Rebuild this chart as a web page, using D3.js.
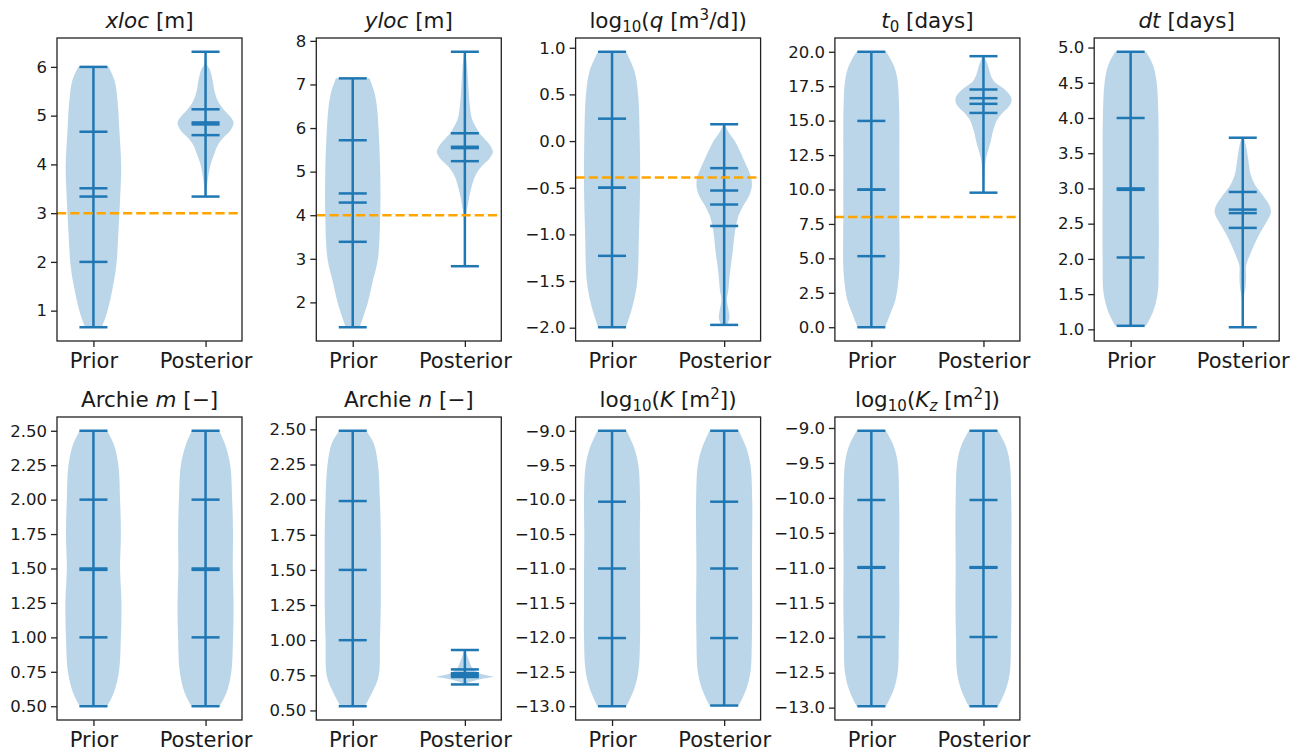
<!DOCTYPE html>
<html>
<head>
<meta charset="utf-8">
<script src="https://cdn.jsdelivr.net/npm/d3@7"></script>
<style>
  body { margin: 0; background: #fff; }
  svg text { font-family: "DejaVu Sans", sans-serif; fill: #1a1a1a; }
</style>
</head>
<body>
<svg id="chart" width="1309" height="751"></svg>
<script>
// ---- data ----
const groupLabels = ["Prior", "Posterior"];

// title pieces: [text, style]  n = normal, i = italic, sub/subi = subscript, sup = superscript
const panelTitles = [
    [["xloc", "i"], [" [m]", "n"]],
    [["yloc", "i"], [" [m]", "n"]],
    [["log", "n"], ["10", "sub"], ["(", "n"], ["q", "i"], [" [m", "n"], ["3", "sup"], ["/d])", "n"]],
    [["t", "i"], ["0", "sub"], [" [days]", "n"]],
    [["dt", "i"], [" [days]", "n"]],
    [["Archie ", "n"], ["m", "i"], [" [\u2212]", "n"]],
    [["Archie ", "n"], ["n", "i"], [" [\u2212]", "n"]],
    [["log", "n"], ["10", "sub"], ["(", "n"], ["K", "i"], [" [m", "n"], ["2", "sup"], ["])", "n"]],
    [["log", "n"], ["10", "sub"], ["(", "n"], ["K", "i"], ["z", "subi"], [" [m", "n"], ["2", "sup"], ["])", "n"]]
];

const yTicks = [
    [1, 2, 3, 4, 5, 6],
    [2, 3, 4, 5, 6, 7, 8],
    [-2, -1.5, -1, -0.5, 0, 0.5, 1],
    [0, 2.5, 5, 7.5, 10, 12.5, 15, 17.5, 20],
    [1, 1.5, 2, 2.5, 3, 3.5, 4, 4.5, 5],
    [0.5, 0.75, 1, 1.25, 1.5, 1.75, 2, 2.25, 2.5],
    [0.5, 0.75, 1, 1.25, 1.5, 1.75, 2, 2.25, 2.5],
    [-13, -12.5, -12, -11.5, -11, -10.5, -10, -9.5, -9],
    [-13, -12.5, -12, -11.5, -11, -10.5, -10, -9.5, -9]
];
const yTickDecimals = [0, 0, 1, 1, 1, 2, 2, 1, 1];

// true values (dashed orange line), null = none
const trueValues = [3.0, 4.0, -0.39, 8.0, null, null, null, null, null];

// [min, max] of each violin
const priorExtrema = [
    [0.66, 6.0], [1.43, 7.14], [-1.995, 0.957], [0.0, 20.0], [1.05, 4.94],
    [0.5, 2.5], [0.53, 2.49], [-13.0, -9.0], [-12.98, -9.04]
];
const posteriorExtrema = [
    [3.34, 6.31], [2.83, 7.75], [-1.97, 0.18], [9.77, 19.68], [1.03, 3.72],
    [0.5, 2.5], [0.685, 0.93], [-12.99, -9.0], [-12.98, -9.04]
];

// inner lines (quartiles, median, mean)
const priorLines = [
    [2.0, 3.34, 3.51, 4.67],
    [3.39, 4.29, 4.5, 5.72],
    [-1.23, -0.5, -0.5, 0.24],
    [5.16, 9.98, 10.0, 14.98],
    [2.02, 2.98, 3.0, 4.0],
    [1.0, 1.49, 1.5, 2.0],
    [1.0, 1.5, 1.99],
    [-12.01, -11.0, -10.03],
    [-11.99, -11.0, -10.99, -10.03]
];
const posteriorLines = [
    [4.6, 4.82, 4.86, 5.13],
    [5.24, 5.54, 5.57, 5.88],
    [-0.91, -0.68, -0.53, -0.29],
    [15.56, 16.22, 16.63, 17.26],
    [2.44, 2.65, 2.7, 2.95],
    [1.0, 1.49, 1.5, 2.0],
    [0.738, 0.752, 0.765, 0.792],
    [-12.01, -11.0, -10.03],
    [-11.99, -11.0, -10.99, -10.03]
];

// violin outlines: [value, relative half width]
const priorShapes = [
    [[0.66, 0.3], [0.95, 0.48], [1.36, 0.65], [1.9, 0.81], [2.6, 0.89], [3.28, 0.95], [3.96, 0.99], [4.65, 0.93], [5.3, 0.86], [5.73, 0.75], [6.0, 0.54]],
    [[1.43, 0.25], [2.0, 0.54], [2.5, 0.72], [3.0, 0.9], [4.0, 0.98], [5.0, 0.98], [6.0, 0.92], [6.5, 0.86], [6.8, 0.78], [7.14, 0.6]],
    [[-1.995, 0.5], [-1.75, 0.75], [-1.5, 0.9], [-1.0, 0.96], [-0.5, 1.0], [0.0, 0.99], [0.5, 0.93], [0.75, 0.8], [0.957, 0.5]],
    [[0, 0.49], [1, 0.68], [2, 0.86], [4, 0.99], [8, 1.0], [12, 1.0], [16, 0.99], [18, 0.93], [19, 0.8], [20, 0.53]],
    [[1.05, 0.55], [1.25, 0.8], [1.5, 0.96], [2.0, 1.0], [3.0, 1.0], [4.0, 0.99], [4.5, 0.93], [4.75, 0.8], [4.94, 0.55]],
    [[0.5, 0.49], [0.6, 0.73], [0.75, 0.91], [1.0, 0.98], [1.25, 1.0], [1.5, 0.95], [1.75, 0.98], [2.0, 0.95], [2.25, 0.89], [2.4, 0.73], [2.5, 0.49]],
    [[0.53, 0.44], [0.65, 0.75], [0.75, 0.93], [1.0, 0.97], [1.25, 1.0], [1.5, 1.0], [1.75, 1.0], [2.0, 0.97], [2.25, 0.9], [2.4, 0.75], [2.49, 0.48]],
    [[-13.0, 0.52], [-12.75, 0.79], [-12.5, 0.94], [-12.0, 1.0], [-11.5, 1.0], [-11.0, 1.0], [-10.5, 0.99], [-10.0, 1.0], [-9.5, 0.94], [-9.25, 0.79], [-9.0, 0.52]],
    [[-12.98, 0.52], [-12.75, 0.79], [-12.5, 0.94], [-12.0, 0.98], [-11.5, 1.0], [-11.0, 0.99], [-10.5, 1.0], [-10.0, 0.99], [-9.5, 0.94], [-9.25, 0.79], [-9.04, 0.52]]
];
const posteriorShapes = [
    [[3.34, 0.02], [3.6, 0.06], [3.8, 0.11], [4.0, 0.18], [4.2, 0.3], [4.4, 0.44], [4.55, 0.64], [4.7, 0.89], [4.85, 1.0], [4.95, 0.92], [5.13, 0.64], [5.3, 0.44], [5.5, 0.32], [5.7, 0.26], [5.95, 0.15], [6.05, 0.05], [6.31, 0.01]],
    [[2.83, 0.01], [3.5, 0.02], [4.0, 0.05], [4.3, 0.12], [4.6, 0.22], [4.9, 0.37], [5.1, 0.57], [5.3, 0.88], [5.45, 1.0], [5.55, 0.95], [5.7, 0.78], [5.9, 0.51], [6.2, 0.26], [6.5, 0.18], [7.0, 0.12], [7.4, 0.08], [7.75, 0.02]],
    [[-1.97, 0.1], [-1.9, 0.19], [-1.8, 0.15], [-1.7, 0.1], [-1.6, 0.15], [-1.4, 0.21], [-1.2, 0.3], [-1.0, 0.37], [-0.9, 0.43], [-0.8, 0.51], [-0.7, 0.67], [-0.6, 0.87], [-0.5, 0.98], [-0.4, 0.97], [-0.2, 0.7], [0.0, 0.38], [0.1, 0.15], [0.18, 0.02]],
    [[9.77, 0.02], [11, 0.04], [12, 0.07], [12.5, 0.12], [13, 0.19], [13.5, 0.26], [14, 0.31], [14.5, 0.38], [15, 0.47], [15.5, 0.65], [16, 0.9], [16.4, 1.0], [16.8, 0.96], [17.3, 0.74], [17.8, 0.4], [18.3, 0.26], [19, 0.16], [19.68, 0.03]],
    [[1.03, 0.01], [1.25, 0.02], [1.45, 0.04], [1.6, 0.1], [1.75, 0.12], [1.9, 0.12], [2.05, 0.25], [2.2, 0.41], [2.35, 0.59], [2.5, 0.81], [2.65, 1.0], [2.75, 0.96], [2.9, 0.72], [3.05, 0.44], [3.2, 0.28], [3.4, 0.2], [3.6, 0.12], [3.72, 0.04]],
    [[0.5, 0.5], [0.6, 0.75], [0.75, 0.92], [1.0, 0.98], [1.25, 1.0], [1.5, 0.97], [1.75, 0.98], [2.0, 0.95], [2.25, 0.88], [2.4, 0.7], [2.5, 0.49]],
    [[0.685, 0.03], [0.7, 0.15], [0.715, 0.4], [0.73, 0.77], [0.74, 1.0], [0.75, 0.77], [0.77, 0.46], [0.8, 0.28], [0.84, 0.18], [0.88, 0.1], [0.93, 0.02]],
    [[-12.99, 0.52], [-12.75, 0.79], [-12.5, 0.94], [-12.0, 0.99], [-11.5, 1.0], [-11.0, 0.99], [-10.5, 1.0], [-10.0, 1.0], [-9.5, 0.94], [-9.25, 0.79], [-9.0, 0.52]],
    [[-12.98, 0.52], [-12.75, 0.79], [-12.5, 0.94], [-12.0, 0.98], [-11.5, 1.0], [-11.0, 0.99], [-10.5, 1.0], [-10.0, 0.99], [-9.5, 0.94], [-9.25, 0.79], [-9.04, 0.52]]
];

// ---- layout ----
const blue = "#1f77b4";
const panelW = 185, panelH = 303;
const colStep = 259.3, firstLeft = 57;
const rowTops = [38, 417];
const titleSize = 21.5, xLabelSize = 21, yLabelSize = 16.5;
const violinHalf = 0.25;   // widths = 0.5
const capHalf = 0.125;

const svg = d3.select("#chart");
svg.append("rect").attr("width", 1309).attr("height", 751).attr("fill", "#fff");

/**
 * dessine le titre avec indices / exposants
 */
function drawTitle(g, cx, baseline, parts) {
    const t = g.append("text")
        .attr("x", cx)
        .attr("y", baseline)
        .attr("text-anchor", "middle")
        .style("font-size", titleSize + "px");
    const shifts = { n: 0, i: 0, sub: 0.2 * titleSize, subi: 0.2 * titleSize, sup: -0.38 * titleSize };
    let cur = 0;
    parts.forEach(([txt, st]) => {
        const ts = t.append("tspan").text(txt);
        const dy = shifts[st] - cur;
        if (dy !== 0) ts.attr("dy", dy);
        cur = shifts[st];
        if (st === "i" || st === "subi") ts.style("font-style", "italic");
        if (st === "sub" || st === "subi" || st === "sup") ts.style("font-size", (titleSize * 0.7) + "px");
    });
}

/**
 * dessine un violon (corps + barres min / max / lignes internes)
 */
function drawViolin(g, x, y, pos, shape, ext, lines) {
    const area = d3.area()
        .y(d => y(d[0]))
        .x0(d => x(pos - violinHalf * d[1]))
        .x1(d => x(pos + violinHalf * d[1]))
        .curve(d3.curveCatmullRom);

    g.append("path")
        .datum(shape)
        .attr("d", area)
        .attr("fill", blue)
        .attr("fill-opacity", 0.3);

    // barre verticale
    g.append("line")
        .attr("x1", x(pos)).attr("x2", x(pos))
        .attr("y1", y(ext[0])).attr("y2", y(ext[1]))
        .attr("stroke", blue).attr("stroke-width", 2.5);

    g.selectAll(null)
        .data(ext.concat(lines))
        .join("line")
        .attr("x1", x(pos - capHalf))
        .attr("x2", x(pos + capHalf))
        .attr("y1", d => y(d))
        .attr("y2", d => y(d))
        .attr("stroke", blue)
        .attr("stroke-width", 2.5);
}

function drawPanel(i) {
    const col = i % 5, row = Math.floor(i / 5);
    const left = firstLeft + col * colStep;
    const top = rowTops[row];

    const lo = Math.min(priorExtrema[i][0], posteriorExtrema[i][0]);
    const hi = Math.max(priorExtrema[i][1], posteriorExtrema[i][1]);
    const pad = 0.05 * (hi - lo);

    const x = d3.scaleLinear([0.675, 2.325], [left, left + panelW]);
    const y = d3.scaleLinear([lo - pad, hi + pad], [top + panelH, top]);

    const g = svg.append("g");

    drawViolin(g, x, y, 1, priorShapes[i], priorExtrema[i], priorLines[i]);
    drawViolin(g, x, y, 2, posteriorShapes[i], posteriorExtrema[i], posteriorLines[i]);

    if (trueValues[i] !== null) {
        g.append("line")
            .attr("x1", left).attr("x2", left + panelW)
            .attr("y1", y(trueValues[i])).attr("y2", y(trueValues[i]))
            .attr("stroke", "#ffa500")
            .attr("stroke-width", 2.5)
            .attr("stroke-dasharray", "9.2,4");
    }

    // axes
    const fmt = d3.format("." + yTickDecimals[i] + "f");
    const yAxis = g.append("g")
        .attr("transform", `translate(${left},0)`)
        .call(d3.axisLeft(y).tickValues(yTicks[i]).tickFormat(fmt).tickSize(6).tickPadding(4));
    yAxis.select(".domain").remove();
    yAxis.selectAll("line").attr("stroke", "#222").attr("stroke-width", 1.3);
    yAxis.selectAll("text").style("font-size", yLabelSize + "px").attr("fill", "#1a1a1a");

    const xAxis = g.append("g")
        .attr("transform", `translate(0,${top + panelH})`)
        .call(d3.axisBottom(x).tickValues([1, 2]).tickFormat(d => groupLabels[d - 1]).tickSize(6).tickPadding(6));
    xAxis.select(".domain").remove();
    xAxis.selectAll("line").attr("stroke", "#222").attr("stroke-width", 1.3);
    xAxis.selectAll("text").style("font-size", xLabelSize + "px").attr("fill", "#1a1a1a");

    g.append("rect")
        .attr("x", left).attr("y", top)
        .attr("width", panelW).attr("height", panelH)
        .attr("fill", "none")
        .attr("stroke", "#222")
        .attr("stroke-width", 1.3);

    drawTitle(g, left + panelW / 2, top - 10, panelTitles[i]);
}

for (let i = 0; i < panelTitles.length; i++) {
    drawPanel(i);
}
</script>
</body>
</html>
